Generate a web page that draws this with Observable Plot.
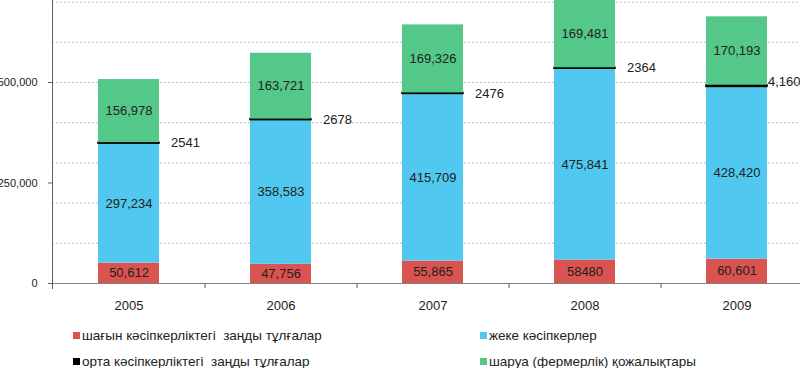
<!DOCTYPE html>
<html>
<head>
<meta charset="utf-8">
<script src="https://cdn.jsdelivr.net/npm/d3@7"></script>
<script src="https://cdn.jsdelivr.net/npm/@observablehq/plot@0.6"></script>
<style>
  html, body { margin: 0; padding: 0; background: #fff; }
  #wrap { position: relative; width: 800px; height: 368px; overflow: hidden; font-family: "Liberation Sans", Arial, sans-serif; }
  #chart svg { display: block; }
  .leg { position: absolute; font-size: 13.5px; color: #222; white-space: pre; line-height: 16px; }
  .sw { display: inline-block; width: 7px; height: 7px; margin-right: 2px; vertical-align: 1px; }
</style>
</head>
<body>
<div id="wrap">
  <div id="chart"></div>
  <div id="legend"></div>
</div>
<script>
const years = ["2005", "2006", "2007", "2008", "2009"];
const seriesNames = ["шағын кәсіпкерліктегі  заңды тұлғалар", "жеке кәсіпкерлер", "орта кәсіпкерліктегі  заңды тұлғалар", "шаруа (фермерлік) қожалықтары"];
const seriesColors = ["#D95350", "#50C8F0", "#000000", "#54C888"];
const small = [50612, 47756, 55865, 58480, 60601];
const smallLabels = ["50,612", "47,756", "55,865", "58480", "60,601"];
const individual = [297234, 358583, 415709, 475841, 428420];
const individualLabels = ["297,234", "358,583", "415,709", "475,841", "428,420"];
const medium = [2541, 2678, 2476, 2364, 4160];
const mediumLabels = ["2541", "2678", "2476", "2364", "4,160"];
const farms = [156978, 163721, 169326, 169481, 170193];
const farmsLabels = ["156,978", "163,721", "169,326", "169,481", "170,193"];
const yTicks = [0, 250000, 500000];

const seriesValues = [small, individual, medium, farms];
const seriesLabels = [smallLabels, individualLabels, mediumLabels, farmsLabels];
const rows = [];
seriesNames.forEach((s, si) => {
  years.forEach((y, yi) => {
    rows.push({year: y, series: s, value: seriesValues[si][yi], label: seriesLabels[si][yi], mid: si === 2});
  });
});

const stackOpts = {x: "year", y: "value", z: "series", order: seriesNames};
const font = "Liberation Sans, Arial, sans-serif";

const chart = Plot.plot({
  width: 800,
  height: 320,
  marginLeft: 52,
  marginRight: 0,
  marginTop: 0,
  marginBottom: 37,
  style: {fontFamily: font, background: "transparent", overflow: "visible"},
  x: {domain: years, range: [52, 812], paddingInner: 0.6, paddingOuter: 0.3, axis: null, label: null},
  y: {domain: [0, 704000], axis: null, label: null},
  color: {domain: seriesNames, range: seriesColors},
  marks: [
    Plot.gridY({interval: 100000, stroke: "#bdbdbd", strokeOpacity: 1, strokeDasharray: "2,2"}),
    Plot.barY(rows, Plot.stackY({...stackOpts, fill: "series", stroke: d => d.mid ? "#000" : "none", strokeWidth: 1.5})),
    Plot.text(rows, Plot.stackY({...stackOpts, text: d => d.mid ? "" : d.label, fill: "#222", fontSize: 13})),
    Plot.text(rows, Plot.stackY({...stackOpts, text: d => d.mid && d.year !== "2009" ? d.label : "", textAnchor: "start", dx: 42, fill: "#222", fontSize: 13})),
    Plot.text(rows, Plot.stackY({...stackOpts, text: d => d.mid && d.year === "2009" ? d.label : "", textAnchor: "start", dx: 31, dy: -4, fill: "#222", fontSize: 13})),
    Plot.ruleY([0], {stroke: "#808080"}),
    Plot.frame({anchor: "left", stroke: "#606060", insetBottom: -5}),
    Plot.axisY({ticks: yTicks, tickSize: 4, tickPadding: 11, tickFormat: d3.format(","), fontSize: 11, color: "#222", stroke: "#606060", label: null}),
    Plot.axisX({ticks: years.slice(0, 4), tickSize: 5, text: null, dx: 76, stroke: "#606060", label: null}),
    Plot.axisX({tickSize: 0, tickPadding: 17, fontSize: 13, color: "#222", label: null})
  ]
});
document.getElementById("chart").appendChild(chart);

const legendPos = [[73, 328], [480, 328], [73, 354], [480, 354]];
const legendOrder = [0, 1, 2, 3];
const legend = document.getElementById("legend");
legendOrder.forEach((si, i) => {
  const d = document.createElement("div");
  d.className = "leg";
  d.style.left = legendPos[i][0] + "px";
  d.style.top = legendPos[i][1] + "px";
  const sw = document.createElement("span");
  sw.className = "sw";
  sw.style.background = seriesColors[si];
  d.appendChild(sw);
  d.appendChild(document.createTextNode(seriesNames[si]));
  legend.appendChild(d);
});
</script>
</body>
</html>
